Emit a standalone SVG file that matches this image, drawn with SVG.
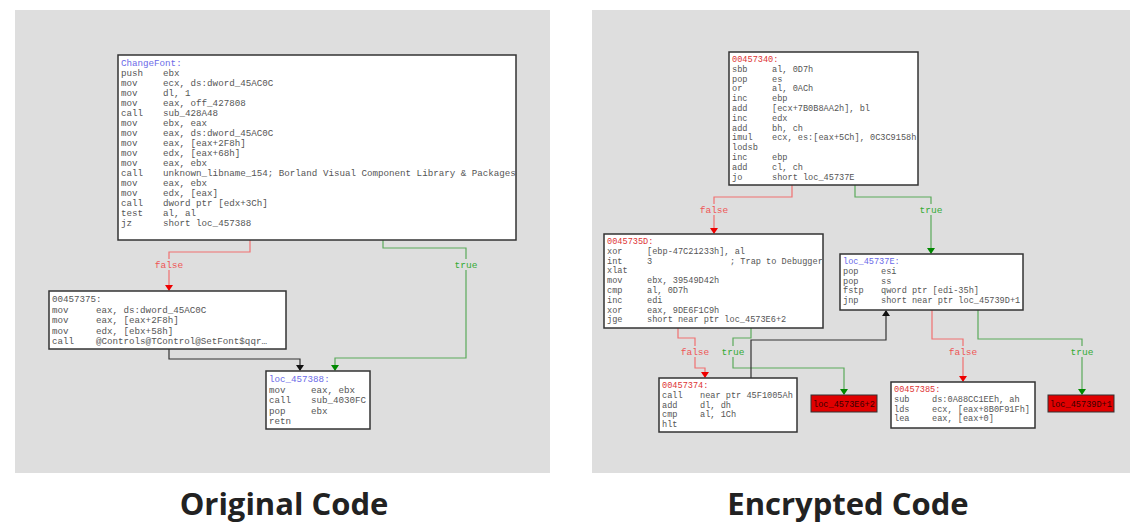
<svg xmlns="http://www.w3.org/2000/svg" width="1144" height="532" viewBox="0 0 1144 532">
<defs>
<style>
.p{fill:#dedede}
.n{fill:#fff;stroke:#333;stroke-width:1.5}
.t{font-family:"Liberation Mono",monospace;font-size:9.2px;fill:#555}
.s{font-size:8.6px}
.h{fill:#6a6ae8}
.r{fill:#d33}
.lbf{font-family:"Liberation Mono",monospace;font-size:9.5px;fill:#e55}
.lbt{font-family:"Liberation Mono",monospace;font-size:9.5px;fill:#3a3}
.ef{fill:none;stroke:#f07070;stroke-width:1.2}
.et{fill:none;stroke:#5aaa5a;stroke-width:1.2}
.eb{fill:none;stroke:#333;stroke-width:1.2}
.title{font-family:"Open Sans","Liberation Sans",sans-serif;font-weight:bold;font-size:31px;fill:#222;text-anchor:middle}
.rb{fill:#e00000;stroke:#333;stroke-width:1}
.rt{font-family:"Liberation Mono",monospace;font-size:8.6px;fill:#3a0000;text-anchor:middle}
</style>
<marker id="af" markerWidth="8" markerHeight="6" refX="4" refY="5" viewBox="0 0 8 6" markerUnits="userSpaceOnUse"><path d="M0,0H8L4,6z" fill="#e00"/></marker>
<marker id="at" markerWidth="8" markerHeight="6" refX="4" refY="5" viewBox="0 0 8 6" markerUnits="userSpaceOnUse"><path d="M0,0H8L4,6z" fill="#080"/></marker>
<marker id="ab" markerWidth="8" markerHeight="6" refX="4" refY="5" viewBox="0 0 8 6" markerUnits="userSpaceOnUse"><path d="M0,0H8L4,6z" fill="#111"/></marker>
<marker id="abu" markerWidth="8" markerHeight="6" refX="4" refY="1" viewBox="0 0 8 6" markerUnits="userSpaceOnUse"><path d="M0,6H8L4,0z" fill="#111"/></marker>
</defs>
<rect width="1144" height="532" fill="#fff"/>
<rect class="p" x="15" y="10" width="535" height="463"/>
<rect class="p" x="592" y="10" width="538" height="463"/>

<g id="connectors">
<path class="ef" d="M250,240V252H169V290" marker-end="url(#af)"/>
<path class="et" d="M383,240V248H466V358H335V370" marker-end="url(#at)"/>
<path class="eb" d="M169,349V359H300V370" marker-end="url(#ab)"/>
<path class="ef" d="M792,185V197H714V233" marker-end="url(#af)"/>
<path class="et" d="M855,185V197H931V253" marker-end="url(#at)"/>
<path class="ef" d="M678,328V338H695V368H705V377" marker-end="url(#af)"/>
<path class="et" d="M751,328V338H733V368H844V394" marker-end="url(#at)"/>
<path class="eb" d="M751,378V340H886V311" marker-end="url(#abu)"/>
<path class="ef" d="M932,310V339H963V381" marker-end="url(#af)"/>
<path class="et" d="M978,310V339H1082V394" marker-end="url(#at)"/>
</g>
<g id="edge-labels">
<rect x="152" y="259" width="34" height="11" class="p"/><text class="lbf" x="169" y="268" text-anchor="middle">false</text>
<rect x="452" y="259" width="28" height="11" class="p"/><text class="lbt" x="466" y="268" text-anchor="middle">true</text>
<rect x="697" y="204" width="34" height="11" class="p"/><text class="lbf" x="714" y="213" text-anchor="middle">false</text>
<rect x="917" y="204" width="28" height="11" class="p"/><text class="lbt" x="931" y="213" text-anchor="middle">true</text>
<rect x="678" y="346" width="34" height="11" class="p"/><text class="lbf" x="695" y="355" text-anchor="middle">false</text>
<rect x="719" y="346" width="28" height="11" class="p"/><text class="lbt" x="733" y="355" text-anchor="middle">true</text>
<rect x="946" y="346" width="34" height="11" class="p"/><text class="lbf" x="963" y="355" text-anchor="middle">false</text>
<rect x="1068" y="346" width="28" height="11" class="p"/><text class="lbt" x="1082" y="355" text-anchor="middle">true</text>
</g>

<g id="n-changefont">
<rect class="n" x="118" y="55" width="398" height="185"/>
<text class="t" x="121" y="66"><tspan class="h">ChangeFont:</tspan>
<tspan x="121" dy="10">push</tspan><tspan x="163">ebx</tspan>
<tspan x="121" dy="10">mov</tspan><tspan x="163">ecx, ds:dword_45AC0C</tspan>
<tspan x="121" dy="10">mov</tspan><tspan x="163">dl, 1</tspan>
<tspan x="121" dy="10">mov</tspan><tspan x="163">eax, off_427808</tspan>
<tspan x="121" dy="10">call</tspan><tspan x="163">sub_428A48</tspan>
<tspan x="121" dy="10">mov</tspan><tspan x="163">ebx, eax</tspan>
<tspan x="121" dy="10">mov</tspan><tspan x="163">eax, ds:dword_45AC0C</tspan>
<tspan x="121" dy="10">mov</tspan><tspan x="163">eax, [eax+2F8h]</tspan>
<tspan x="121" dy="10">mov</tspan><tspan x="163">edx, [eax+68h]</tspan>
<tspan x="121" dy="10">mov</tspan><tspan x="163">eax, ebx</tspan>
<tspan x="121" dy="10">call</tspan><tspan x="163">unknown_libname_154; Borland Visual Component Library &amp; Packages</tspan>
<tspan x="121" dy="10">mov</tspan><tspan x="163">eax, ebx</tspan>
<tspan x="121" dy="10">mov</tspan><tspan x="163">edx, [eax]</tspan>
<tspan x="121" dy="10">call</tspan><tspan x="163">dword ptr [edx+3Ch]</tspan>
<tspan x="121" dy="10">test</tspan><tspan x="163">al, al</tspan>
<tspan x="121" dy="10">jz</tspan><tspan x="163">short loc_457388</tspan></text>
</g>

<g id="n-00457375">
<rect class="n" x="49" y="291" width="237" height="58"/>
<text class="t" x="52" y="302">00457375:
<tspan x="52" dy="10.5">mov</tspan><tspan x="96">eax, ds:dword_45AC0C</tspan>
<tspan x="52" dy="10.5">mov</tspan><tspan x="96">eax, [eax+2F8h]</tspan>
<tspan x="52" dy="10.5">mov</tspan><tspan x="96">edx, [ebx+58h]</tspan>
<tspan x="52" dy="10.5">call</tspan><tspan x="96">@Controls@TControl@SetFont$qqr…</tspan></text>
</g>

<g id="n-loc_457388">
<rect class="n" x="266" y="371" width="104" height="58"/>
<text class="t" x="269" y="382"><tspan class="h">loc_457388:</tspan>
<tspan x="269" dy="10.5">mov</tspan><tspan x="311">eax, ebx</tspan>
<tspan x="269" dy="10.5">call</tspan><tspan x="311">sub_4030FC</tspan>
<tspan x="269" dy="10.5">pop</tspan><tspan x="311">ebx</tspan>
<tspan x="269" dy="10.5">retn</tspan></text>
</g>

<g id="n-00457340">
<rect class="n" x="729" y="52" width="189" height="133"/>
<text class="t s" x="732" y="62"><tspan class="r">00457340:</tspan>
<tspan x="732" dy="9.8">sbb</tspan><tspan x="772">al, 0D7h</tspan>
<tspan x="732" dy="9.8">pop</tspan><tspan x="772">es</tspan>
<tspan x="732" dy="9.8">or</tspan><tspan x="772">al, 0ACh</tspan>
<tspan x="732" dy="9.8">inc</tspan><tspan x="772">ebp</tspan>
<tspan x="732" dy="9.8">add</tspan><tspan x="772">[ecx+7B0B8AA2h], bl</tspan>
<tspan x="732" dy="9.8">inc</tspan><tspan x="772">edx</tspan>
<tspan x="732" dy="9.8">add</tspan><tspan x="772">bh, ch</tspan>
<tspan x="732" dy="9.8">imul</tspan><tspan x="772">ecx, es:[eax+5Ch], 0C3C9158h</tspan>
<tspan x="732" dy="9.8">lodsb</tspan>
<tspan x="732" dy="9.8">inc</tspan><tspan x="772">ebp</tspan>
<tspan x="732" dy="9.8">add</tspan><tspan x="772">cl, ch</tspan>
<tspan x="732" dy="9.8">jo</tspan><tspan x="772">short loc_45737E</tspan></text>
</g>

<g id="n-0045735D">
<rect class="n" x="604" y="234" width="219" height="94"/>
<text class="t s" x="607" y="244"><tspan class="r">0045735D:</tspan>
<tspan x="607" dy="9.8">xor</tspan><tspan x="647">[ebp-47C21233h], al</tspan>
<tspan x="607" dy="9.8">int</tspan><tspan x="647">3</tspan><tspan x="730">; Trap to Debugger</tspan>
<tspan x="607" dy="9.8">xlat</tspan>
<tspan x="607" dy="9.8">mov</tspan><tspan x="647">ebx, 39549D42h</tspan>
<tspan x="607" dy="9.8">cmp</tspan><tspan x="647">al, 0D7h</tspan>
<tspan x="607" dy="9.8">inc</tspan><tspan x="647">edi</tspan>
<tspan x="607" dy="9.8">xor</tspan><tspan x="647">eax, 9DE6F1C9h</tspan>
<tspan x="607" dy="9.8">jge</tspan><tspan x="647">short near ptr loc_4573E6+2</tspan></text>
</g>

<g id="n-loc_45737E">
<rect class="n" x="840" y="254" width="183" height="56"/>
<text class="t s" x="843" y="264"><tspan class="h">loc_45737E:</tspan>
<tspan x="843" dy="9.8">pop</tspan><tspan x="881">esi</tspan>
<tspan x="843" dy="9.8">pop</tspan><tspan x="881">ss</tspan>
<tspan x="843" dy="9.8">fstp</tspan><tspan x="881">qword ptr [edi-35h]</tspan>
<tspan x="843" dy="9.8">jnp</tspan><tspan x="881">short near ptr loc_45739D+1</tspan></text>
</g>

<g id="n-00457374">
<rect class="n" x="659" y="378" width="138" height="54"/>
<text class="t s" x="662" y="388"><tspan class="r">00457374:</tspan>
<tspan x="662" dy="9.8">call</tspan><tspan x="700">near ptr 45F1005Ah</tspan>
<tspan x="662" dy="9.8">add</tspan><tspan x="700">dl, dh</tspan>
<tspan x="662" dy="9.8">cmp</tspan><tspan x="700">al, 1Ch</tspan>
<tspan x="662" dy="9.8">hlt</tspan></text>
</g>

<g id="n-loc_4573E6">
<rect class="rb" x="811" y="395" width="66" height="17"/>
<text class="rt" x="844" y="406.5">loc_4573E6+2</text>
</g>

<g id="n-00457385">
<rect class="n" x="891" y="382" width="144" height="46"/>
<text class="t s" x="894" y="392"><tspan class="r">00457385:</tspan>
<tspan x="894" dy="9.8">sub</tspan><tspan x="932">ds:0A88CC1EEh, ah</tspan>
<tspan x="894" dy="9.8">lds</tspan><tspan x="932">ecx, [eax+8B0F91Fh]</tspan>
<tspan x="894" dy="9.8">lea</tspan><tspan x="932">eax, [eax+0]</tspan></text>
</g>

<g id="n-loc_45739D">
<rect class="rb" x="1048" y="395" width="66" height="17"/>
<text class="rt" x="1081" y="406.5">loc_45739D+1</text>
</g>

<text class="title" x="284" y="515">Original Code</text>
<text class="title" x="848" y="515">Encrypted Code</text>
</svg>
